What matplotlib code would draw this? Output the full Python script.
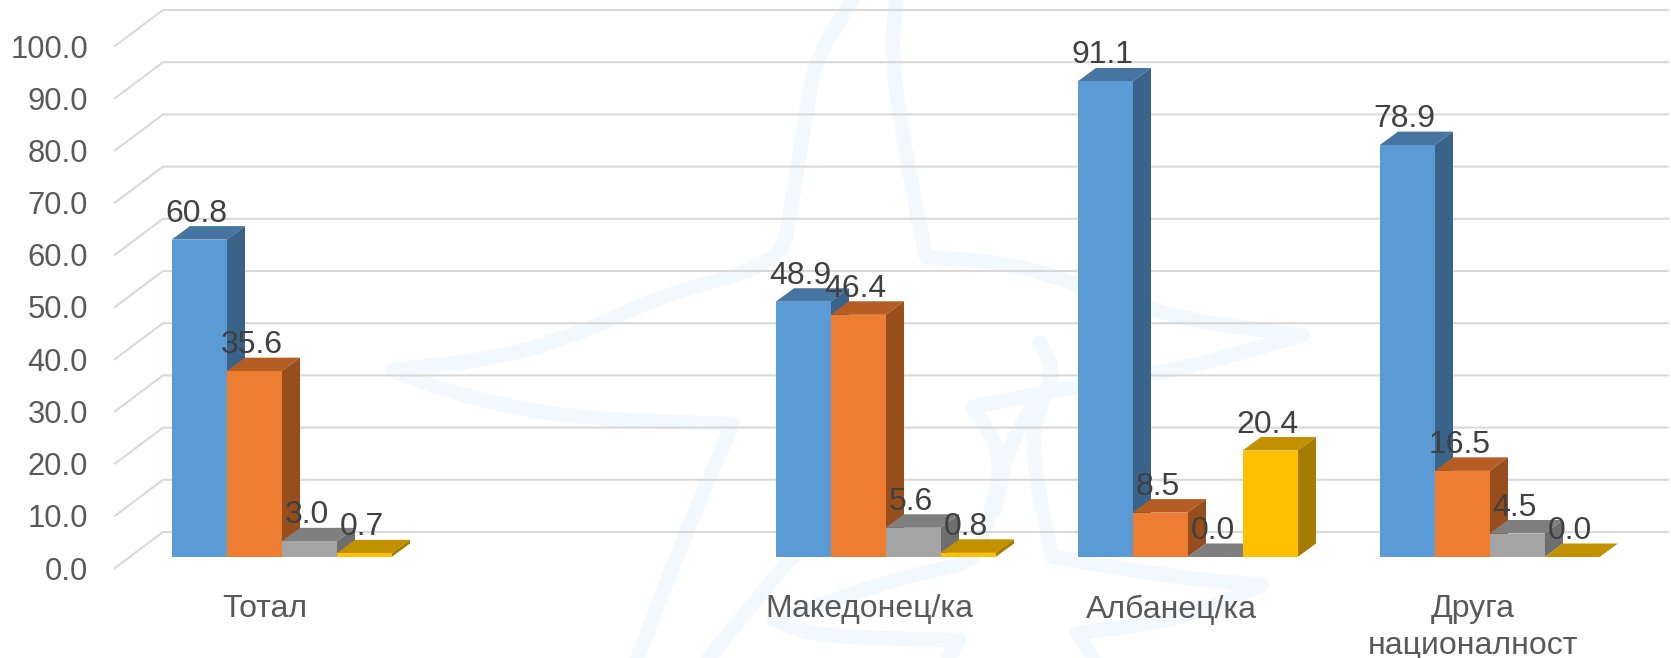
import matplotlib
matplotlib.use("Agg")
import matplotlib.pyplot as plt

plt.rcParams['font.family'] = ['Liberation Sans', 'DejaVu Sans']

categories = ["Тотал", "", "Македонец/ка", "Албанец/ка", "Друга\nнационалност"]
series_1 = [60.8, None, 48.9, 91.1, 78.9]
series_2 = [35.6, None, 46.4, 8.5, 16.5]
series_3 = [3.0, None, 5.6, 0.0, 4.5]
series_4 = [0.7, None, 0.8, 20.4, 0.0]
y_ticks = [0, 10, 20, 30, 40, 50, 60, 70, 80, 90, 100]

# front, top, side
blue = ("#5b9bd5", "#4675a1", "#3a6389")
orange = ("#ed7d31", "#b55d23", "#974e1c")
grey = ("#a5a5a5", "#7f7f7f", "#6e6e6e")
yellow = ("#ffc000", "#c29100", "#a37c00")

W, H = 1671, 658
PX_PER_CAT = 302.0
PX_PER_UNIT = 5.22
ZERO_Y = 568       # pixel row of the value 0 at the front of the floor
LEFT_X = 115
CAT0_X = 265       # pixel column of the first category label

bar_w = 55 / PX_PER_CAT
bar_start = -93.4 / PX_PER_CAT
depth_x = 18.4 / PX_PER_CAT
depth_y = 13.5 / PX_PER_UNIT
floor = 11 / PX_PER_UNIT
label_up = 26 / PX_PER_UNIT
label_left = 2.5 / PX_PER_CAT
grid_dx = 48 / PX_PER_CAT
grid_dy = 36 / PX_PER_UNIT


def smooth(points, rounds=3):
    # corner cutting, a doubled point stays a sharp tip
    for _ in range(rounds):
        out = [points[0]]
        for a, b in zip(points[:-1], points[1:]):
            out.append((0.75 * a[0] + 0.25 * b[0], 0.75 * a[1] + 0.25 * b[1]))
            out.append((0.25 * a[0] + 0.75 * b[0], 0.25 * a[1] + 0.75 * b[1]))
        out.append(points[-1])
        points = out
    return points


fig = plt.figure(figsize=(W / 100, H / 100), dpi=100, facecolor="white")

# watermark behind the chart, in pixel coordinates
bg = fig.add_axes([0, 0, 1, 1], zorder=0)
bg.set_xlim(0, W)
bg.set_ylim(H, 0)
bg.axis("off")
mark_strokes = [
    [(858, -8), (816, 57), (805, 117), (790, 217), (780, 263), (660, 296), (593, 328),
     (507, 357), (393, 370), (393, 370), (440, 389), (523, 410), (607, 420), (733, 424), (733, 424),
     (691, 520), (635, 664)],
    [(897, -8), (891, 57), (905, 150), (926, 257), (926, 257), (1008, 263), (1065, 280), (1180, 320),
     (1303, 335), (1303, 335), (1180, 370), (1058, 390), (973, 407), (973, 407), (1005, 458),
     (985, 530), (977, 562), (902, 577), (834, 600), (774, 620), (774, 620), (820, 637), (959, 640),
     (959, 640), (945, 664)],
    [(1040, 343), (1054, 370), (1042, 400), (1030, 447), (1052, 557), (1052, 557), (1180, 578),
     (1262, 585), (1262, 585), (1180, 620), (1077, 633), (1077, 633), (1097, 664)],
    [(1036, 400), (1007, 450), (995, 510)],
    [(816, 535), (791, 557), (704, 664)],
]
for stroke in mark_strokes:
    pts = smooth(stroke)
    bg.plot([p[0] for p in pts], [p[1] for p in pts], color="#f3f8fd", lw=10.5,
            solid_joinstyle="round", solid_capstyle="round")

ax = fig.add_axes([LEFT_X / W, (H - ZERO_Y) / H, (W - LEFT_X) / W, ZERO_Y / H], zorder=1)
ax.patch.set_alpha(0)
ax.set_xlim((LEFT_X - CAT0_X) / PX_PER_CAT, (W - CAT0_X) / PX_PER_CAT)
ax.set_ylim(0, ZERO_Y / PX_PER_UNIT)
for s in ax.spines.values():
    s.set_visible(False)

x_left, x_right = ax.get_xlim()
for v in y_ticks:
    ax.plot([x_left, x_left + grid_dx, (1668 - CAT0_X) / PX_PER_CAT],
            [v, v + grid_dy, v + grid_dy], color="#d9d9d9", lw=1.5, zorder=1, clip_on=False)

all_series = [(series_1, blue), (series_2, orange), (series_3, grey), (series_4, yellow)]
for j, (vals, cols) in enumerate(all_series):
    for i, v in enumerate(vals):
        if v is None:
            continue
        x0 = i + bar_start + j * bar_w
        x1 = x0 + bar_w
        y0 = floor
        y1 = floor + v
        ax.fill([x0, x1, x1 + depth_x, x0 + depth_x], [y1, y1, y1 + depth_y, y1 + depth_y],
                color=cols[1], lw=0, zorder=3 + 2 * j)
        ax.fill([x1, x1 + depth_x, x1 + depth_x, x1], [y0, y0 + depth_y, y1 + depth_y, y1],
                color=cols[2], lw=0, zorder=3 + 2 * j)
        ax.bar(x0, v, bar_w, bottom=floor, align="edge", color=cols[0], lw=0, zorder=4 + 2 * j)
        ax.text(x0 + bar_w / 2 - label_left, y1 + label_up, f"{v:.1f}", ha="center", va="center",
                fontsize=23, color="#404040", zorder=20)

ax.set_yticks(y_ticks)
ax.set_yticklabels([f"{v:.1f}" for v in y_ticks])
ax.set_xticks(range(len(categories)))
ax.set_xticklabels(categories, linespacing=1.27)
ax.tick_params(axis="y", length=0, pad=19.4, labelsize=22.2, labelcolor="#595959")
ax.tick_params(axis="x", length=0, pad=19, labelsize=23, labelcolor="#595959")

fig.savefig("out.png", dpi=100, facecolor="white")
